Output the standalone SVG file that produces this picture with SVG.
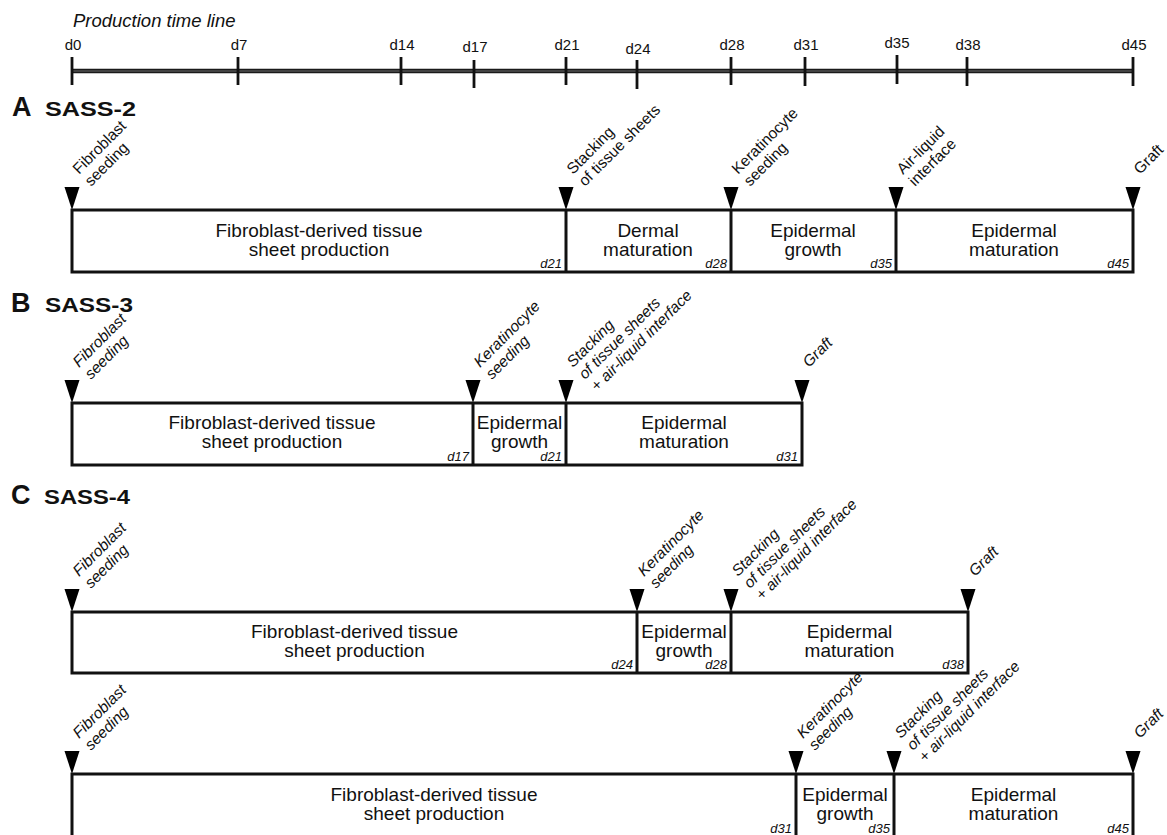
<svg xmlns="http://www.w3.org/2000/svg" xmlns:xlink="http://www.w3.org/1999/xlink" width="1167" height="835" viewBox="0 0 1167 835">
<style>
  text { font-family: "Liberation Sans", Arial, sans-serif; fill: #111; }
  .title { font-size: 18.5px; font-style: italic; }
  .day { font-size: 15px; text-anchor: middle; }
  .sec { font-size: 27px; font-weight: bold; }
  .sub { font-size: 21px; font-weight: bold; }
  .lab { font-size: 15.5px; }
  .labi { font-size: 15.5px; font-style: italic; }
  .box { font-size: 19px; text-anchor: middle; }
  .dd { font-size: 13px; font-style: italic; text-anchor: end; }
  .axis { stroke: #1a1a1a; stroke-width: 4.5; fill: none; }
  .axis-mid { stroke: #6a6a6a; stroke-width: 1; fill: none; }
  .tick { stroke: #111; stroke-width: 2.8; fill: none; }
  .frame { stroke: #111; stroke-width: 3; fill: #fff; }
  .div { stroke: #111; stroke-width: 3; fill: none; }
  .tri { fill: #000; }
</style>
<defs>
  <path id="tri" class="tri" d="M-7.5,-23 L7.5,-23 L0,0 Z"/>
</defs>

<g id="timeline">
  <text class="title" x="73" y="27">Production time line</text>
  <line class="axis" x1="72" y1="71" x2="1134" y2="71"/>
  <line class="axis-mid" x1="72" y1="71" x2="1134" y2="71"/>
  <g class="ticks">
    <line class="tick" x1="72" y1="57" x2="72" y2="85"/>
    <line class="tick" x1="238" y1="57" x2="238" y2="85"/>
    <line class="tick" x1="401" y1="57" x2="401" y2="85"/>
    <line class="tick" x1="474" y1="60" x2="474" y2="88"/>
    <line class="tick" x1="566" y1="57" x2="566" y2="85"/>
    <line class="tick" x1="637" y1="60" x2="637" y2="89"/>
    <line class="tick" x1="731" y1="57" x2="731" y2="85"/>
    <line class="tick" x1="805" y1="57" x2="805" y2="86"/>
    <line class="tick" x1="897" y1="55" x2="897" y2="84"/>
    <line class="tick" x1="967" y1="57" x2="967" y2="86"/>
    <line class="tick" x1="1133" y1="57" x2="1133" y2="86"/>
  </g>
  <text class="day" x="73" y="50">d0</text>
  <text class="day" x="239" y="50">d7</text>
  <text class="day" x="402" y="50">d14</text>
  <text class="day" x="475" y="52">d17</text>
  <text class="day" x="567" y="50">d21</text>
  <text class="day" x="638" y="54">d24</text>
  <text class="day" x="732" y="50">d28</text>
  <text class="day" x="806" y="50">d31</text>
  <text class="day" x="897" y="48">d35</text>
  <text class="day" x="968" y="50">d38</text>
  <text class="day" x="1134" y="50">d45</text>
</g>

<!-- A SASS-2 -->
<g id="sass2">
  <text class="sec" x="12" y="116">A</text>
  <text class="sub" x="45" y="116" textLength="91" lengthAdjust="spacingAndGlyphs">SASS-2</text>
  <g id="sass2-events">
    <use xlink:href="#tri" x="72" y="210"/>
    <use xlink:href="#tri" x="566" y="210"/>
    <use xlink:href="#tri" x="731" y="210"/>
    <use xlink:href="#tri" x="896" y="210"/>
    <use xlink:href="#tri" x="1133" y="210"/>
    <text class="lab" transform="translate(79,175) rotate(-45)"><tspan x="0" y="0">Fibroblast</tspan><tspan x="0" y="17">seeding</tspan></text>
    <text class="lab" transform="translate(573,175) rotate(-45)"><tspan x="0" y="0">Stacking</tspan><tspan x="0" y="17">of tissue sheets</tspan></text>
    <text class="lab" transform="translate(738,175) rotate(-45)"><tspan x="0" y="0">Keratinocyte</tspan><tspan x="0" y="17">seeding</tspan></text>
    <text class="lab" transform="translate(903,175) rotate(-45)"><tspan x="0" y="0">Air-liquid</tspan><tspan x="0" y="17">interface</tspan></text>
    <text class="lab" transform="translate(1140,175) rotate(-45)">Graft</text>
  </g>
  <g id="sass2-bar">
    <rect class="frame" x="72" y="210" width="1061" height="62"/>
    <line class="div" x1="566" y1="210" x2="566" y2="272"/>
    <line class="div" x1="731" y1="210" x2="731" y2="272"/>
    <line class="div" x1="896" y1="210" x2="896" y2="272"/>
    <text class="box" x="319" y="237">Fibroblast-derived tissue</text>
    <text class="box" x="319" y="256">sheet production</text>
    <text class="box" x="648" y="237">Dermal</text>
    <text class="box" x="648" y="256">maturation</text>
    <text class="box" x="813" y="237">Epidermal</text>
    <text class="box" x="813" y="256">growth</text>
    <text class="box" x="1014" y="237">Epidermal</text>
    <text class="box" x="1014" y="256">maturation</text>
    <text class="dd" x="562" y="268">d21</text>
    <text class="dd" x="727" y="268">d28</text>
    <text class="dd" x="892" y="268">d35</text>
    <text class="dd" x="1129" y="268">d45</text>
  </g>
</g>

<!-- B SASS-3 -->
<g id="sass3">
  <text class="sec" x="11" y="312">B</text>
  <text class="sub" x="45" y="312" textLength="88" lengthAdjust="spacingAndGlyphs">SASS-3</text>
  <g id="sass3-events">
    <use xlink:href="#tri" x="72" y="403"/>
    <use xlink:href="#tri" x="473" y="403"/>
    <use xlink:href="#tri" x="566" y="403"/>
    <use xlink:href="#tri" x="802" y="403"/>
    <text class="labi" transform="translate(79,368) rotate(-45)"><tspan x="0" y="0">Fibroblast</tspan><tspan x="0" y="17">seeding</tspan></text>
    <text class="labi" transform="translate(480,368) rotate(-45)"><tspan x="0" y="0">Keratinocyte</tspan><tspan x="0" y="17">seeding</tspan></text>
    <text class="labi" transform="translate(573,368) rotate(-45)"><tspan x="0" y="0">Stacking</tspan><tspan x="0" y="17">of tissue sheets</tspan><tspan x="0" y="34">+ air-liquid interface</tspan></text>
    <text class="labi" transform="translate(809,368) rotate(-45)">Graft</text>
  </g>
  <g id="sass3-bar">
    <rect class="frame" x="72" y="403" width="730" height="62"/>
    <line class="div" x1="473" y1="403" x2="473" y2="465"/>
    <line class="div" x1="566" y1="403" x2="566" y2="465"/>
    <text class="box" x="272" y="429">Fibroblast-derived tissue</text>
    <text class="box" x="272" y="448">sheet production</text>
    <text class="box" x="519.5" y="429">Epidermal</text>
    <text class="box" x="519.5" y="448">growth</text>
    <text class="box" x="684" y="429">Epidermal</text>
    <text class="box" x="684" y="448">maturation</text>
    <text class="dd" x="469" y="461">d17</text>
    <text class="dd" x="562" y="461">d21</text>
    <text class="dd" x="798" y="461">d31</text>
  </g>
</g>

<!-- C SASS-4 -->
<g id="sass4">
  <text class="sec" x="11" y="504">C</text>
  <text class="sub" x="44" y="504" textLength="86" lengthAdjust="spacingAndGlyphs">SASS-4</text>
  <g id="sass4a-events">
    <use xlink:href="#tri" x="72" y="612"/>
    <use xlink:href="#tri" x="637" y="612"/>
    <use xlink:href="#tri" x="731" y="612"/>
    <use xlink:href="#tri" x="968" y="612"/>
    <text class="labi" transform="translate(79,577) rotate(-45)"><tspan x="0" y="0">Fibroblast</tspan><tspan x="0" y="17">seeding</tspan></text>
    <text class="labi" transform="translate(644,577) rotate(-45)"><tspan x="0" y="0">Keratinocyte</tspan><tspan x="0" y="17">seeding</tspan></text>
    <text class="labi" transform="translate(738,577) rotate(-45)"><tspan x="0" y="0">Stacking</tspan><tspan x="0" y="17">of tissue sheets</tspan><tspan x="0" y="34">+ air-liquid interface</tspan></text>
    <text class="labi" transform="translate(975,577) rotate(-45)">Graft</text>
  </g>
  <g id="sass4a-bar">
    <rect class="frame" x="72" y="612" width="896" height="61"/>
    <line class="div" x1="637" y1="612" x2="637" y2="673"/>
    <line class="div" x1="731" y1="612" x2="731" y2="673"/>
    <text class="box" x="354.5" y="638">Fibroblast-derived tissue</text>
    <text class="box" x="354.5" y="657">sheet production</text>
    <text class="box" x="684" y="638">Epidermal</text>
    <text class="box" x="684" y="657">growth</text>
    <text class="box" x="849.5" y="638">Epidermal</text>
    <text class="box" x="849.5" y="657">maturation</text>
    <text class="dd" x="633" y="669">d24</text>
    <text class="dd" x="727" y="669">d28</text>
    <text class="dd" x="964" y="669">d38</text>
  </g>
  <g id="sass4b-events">
    <use xlink:href="#tri" x="72" y="774"/>
    <use xlink:href="#tri" x="796" y="774"/>
    <use xlink:href="#tri" x="894" y="774"/>
    <use xlink:href="#tri" x="1133" y="774"/>
    <text class="labi" transform="translate(79,739) rotate(-45)"><tspan x="0" y="0">Fibroblast</tspan><tspan x="0" y="17">seeding</tspan></text>
    <text class="labi" transform="translate(803,739) rotate(-45)"><tspan x="0" y="0">Keratinocyte</tspan><tspan x="0" y="17">seeding</tspan></text>
    <text class="labi" transform="translate(901,739) rotate(-45)"><tspan x="0" y="0">Stacking</tspan><tspan x="0" y="17">of tissue sheets</tspan><tspan x="0" y="34">+ air-liquid interface</tspan></text>
    <text class="labi" transform="translate(1140,739) rotate(-45)">Graft</text>
  </g>
  <g id="sass4b-bar">
    <rect class="frame" x="72" y="774" width="1061" height="64"/>
    <line class="div" x1="796" y1="774" x2="796" y2="838"/>
    <line class="div" x1="894" y1="774" x2="894" y2="838"/>
    <text class="box" x="434" y="801">Fibroblast-derived tissue</text>
    <text class="box" x="434" y="820">sheet production</text>
    <text class="box" x="845" y="801">Epidermal</text>
    <text class="box" x="845" y="820">growth</text>
    <text class="box" x="1013.5" y="801">Epidermal</text>
    <text class="box" x="1013.5" y="820">maturation</text>
    <text class="dd" x="792" y="833">d31</text>
    <text class="dd" x="890" y="833">d35</text>
    <text class="dd" x="1129" y="833">d45</text>
  </g>
</g>
</svg>
